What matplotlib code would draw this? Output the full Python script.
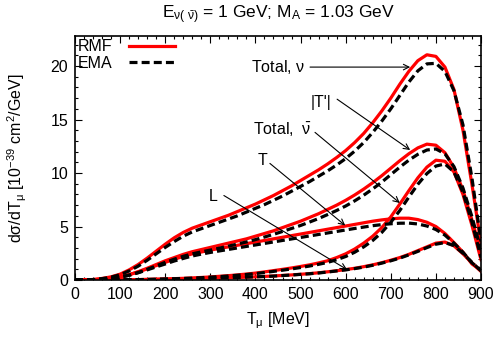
import matplotlib
matplotlib.use("Agg")
import matplotlib.pyplot as plt
import numpy as np

plt.rcParams['font.family'] = ['Liberation Sans', 'DejaVu Sans']
plt.rcParams['mathtext.fontset'] = 'custom'
plt.rcParams['mathtext.rm'] = 'Liberation Sans'
plt.rcParams['mathtext.it'] = 'Liberation Sans'
plt.rcParams['mathtext.default'] = 'regular'

# muon kinetic energy grid [MeV]
t_mu = np.arange(0, 901, 20)

# RMF curves
tot_nu_rmf = [0, 0.01, 0.05, 0.15, 0.3, 0.55, 0.95, 1.45, 2.05, 2.7, 3.35, 3.95, 4.45, 4.85, 5.15,
              5.45, 5.75, 6.05, 6.4, 6.75, 7.1, 7.5, 7.9, 8.35, 8.8, 9.3, 9.8, 10.3, 10.85, 11.45,
              12.1, 12.85, 13.7, 14.7, 15.8, 17.0, 18.3, 19.5, 20.5, 21.05, 20.9, 19.9, 17.8, 14.0,
              8.9, 3.4]
tp_rmf = [0, 0.01, 0.03, 0.08, 0.17, 0.3, 0.5, 0.78, 1.1, 1.45, 1.8, 2.1, 2.4, 2.65, 2.85, 3.05,
          3.25, 3.45, 3.65, 3.85, 4.1, 4.35, 4.6, 4.9, 5.2, 5.5, 5.85, 6.2, 6.6, 7.0, 7.45, 7.95,
          8.5, 9.1, 9.75, 10.45, 11.15, 11.8, 12.35, 12.7, 12.6, 11.9, 10.5, 8.4, 5.6, 2.6]
t_rmf = [0, 0.01, 0.03, 0.08, 0.17, 0.3, 0.5, 0.75, 1.05, 1.35, 1.65, 1.95, 2.2, 2.45, 2.62, 2.8,
         2.95, 3.1, 3.25, 3.4, 3.55, 3.7, 3.85, 4.0, 4.15, 4.3, 4.45, 4.6, 4.75, 4.9, 5.05, 5.2,
         5.35, 5.5, 5.62, 5.72, 5.78, 5.78, 5.65, 5.4, 5.0, 4.35, 3.5, 2.6, 1.5, 0.9]
tot_nub_rmf = [0, 0, 0, 0.01, 0.01, 0.02, 0.03, 0.04, 0.06, 0.08, 0.1, 0.13, 0.16, 0.2, 0.24, 0.29,
               0.35, 0.41, 0.48, 0.56, 0.65, 0.76, 0.88, 1.0, 1.13, 1.27, 1.42, 1.6, 1.8, 2.1, 2.45,
               2.9, 3.45, 4.1, 4.9, 5.9, 7.1, 8.35, 9.55, 10.55, 11.2, 11.1, 10.1, 8.0, 5.1, 1.9]
l_rmf = [0, 0, 0, 0.01, 0.01, 0.02, 0.03, 0.04, 0.05, 0.06, 0.08, 0.09, 0.11, 0.13, 0.15, 0.17,
         0.19, 0.21, 0.24, 0.27, 0.3, 0.34, 0.38, 0.43, 0.48, 0.54, 0.6, 0.68, 0.77, 0.87, 0.98,
         1.1, 1.25, 1.42, 1.62, 1.85, 2.1, 2.4, 2.75, 3.1, 3.45, 3.55, 3.2, 2.45, 1.6, 0.8]

# EMA curves
tot_nu_ema = [0, 0.01, 0.04, 0.13, 0.27, 0.5, 0.85, 1.3, 1.85, 2.45, 3.05, 3.6, 4.1, 4.5, 4.8, 5.1,
              5.4, 5.7, 6.0, 6.35, 6.7, 7.05, 7.45, 7.85, 8.3, 8.75, 9.2, 9.7, 10.2, 10.75, 11.35,
              12.05, 12.85, 13.8, 14.85, 16.0, 17.25, 18.5, 19.55, 20.2, 20.25, 19.5, 17.7, 14.5,
              9.5, 3.6]
tp_ema = [0, 0.01, 0.03, 0.07, 0.15, 0.27, 0.45, 0.7, 1.0, 1.33, 1.65, 1.95, 2.22, 2.45, 2.63, 2.8,
          2.98, 3.17, 3.36, 3.56, 3.78, 4.02, 4.27, 4.54, 4.82, 5.1, 5.42, 5.75, 6.12, 6.5, 6.92,
          7.4, 7.93, 8.52, 9.15, 9.85, 10.55, 11.2, 11.75, 12.15, 12.25, 11.8, 10.6, 8.6, 5.9, 2.8]
t_ema = [0, 0.01, 0.03, 0.07, 0.15, 0.27, 0.45, 0.68, 0.95, 1.23, 1.5, 1.78, 2.02, 2.25, 2.42, 2.58,
         2.72, 2.86, 3.0, 3.14, 3.28, 3.42, 3.56, 3.7, 3.84, 3.98, 4.12, 4.26, 4.4, 4.54, 4.68,
         4.82, 4.95, 5.08, 5.18, 5.26, 5.31, 5.32, 5.24, 5.05, 4.72, 4.2, 3.45, 2.6, 1.6, 0.95]
tot_nub_ema = [0, 0, 0, 0.01, 0.01, 0.02, 0.03, 0.04, 0.05, 0.07, 0.09, 0.12, 0.15, 0.18, 0.22, 0.27,
               0.32, 0.38, 0.45, 0.52, 0.6, 0.7, 0.81, 0.92, 1.04, 1.17, 1.31, 1.47, 1.65, 1.9, 2.2,
               2.6, 3.1, 3.7, 4.45, 5.4, 6.5, 7.75, 8.95, 9.95, 10.65, 10.85, 10.1, 8.2, 5.4, 2.1]
l_ema = [0, 0, 0, 0.01, 0.01, 0.02, 0.03, 0.04, 0.05, 0.06, 0.08, 0.09, 0.11, 0.13, 0.15, 0.17,
         0.19, 0.21, 0.24, 0.27, 0.3, 0.33, 0.37, 0.42, 0.47, 0.53, 0.59, 0.66, 0.75, 0.85, 0.95,
         1.07, 1.21, 1.38, 1.58, 1.8, 2.05, 2.35, 2.68, 3.03, 3.35, 3.5, 3.22, 2.5, 1.65, 0.85]

fig = plt.figure(figsize=(4.98, 3.37), dpi=100)
ax = fig.add_axes([0.1506, 0.169, 0.8153, 0.724])

red = '#ff0000'
for i, y in enumerate([tot_nu_rmf, tp_rmf, t_rmf, tot_nub_rmf, l_rmf]):
    ax.plot(t_mu, y, color=red, lw=2.3, label='RMF' if i == 0 else None, zorder=2)
for i, y in enumerate([tot_nu_ema, tp_ema, t_ema, tot_nub_ema, l_ema]):
    ax.plot(t_mu, y, color='black', lw=2.3, dashes=(2.5, 1.3), label='EMA' if i == 0 else None, zorder=3)

fs = 11.5
ax.set_xlim(0, 900)
ax.set_ylim(0, 22.8)
ax.set_xticks(np.arange(0, 901, 100))
ax.set_xticks(np.arange(0, 901, 20), minor=True)
ax.set_yticks([0, 5, 10, 15, 20])
ax.set_yticks(np.arange(0, 23, 1), minor=True)
ax.tick_params(which='both', direction='in', top=True, right=True, labelsize=fs, width=0.8)
ax.tick_params(which='major', length=5, pad=5)
ax.tick_params(which='minor', length=2.5)
for s in ax.spines.values():
    s.set_linewidth(1.2)

ax.set_xlabel(r'T$_{\mu}$ [MeV]', fontsize=fs, labelpad=6)
ax.set_ylabel(r'd$\sigma$/dT$_{\mu}$ [10$^{-39}$ cm$^2$/GeV]', fontsize=fs, labelpad=15)
ax.set_title(r'E$_{\nu(\ \bar{\nu})}$ = 1 GeV; M$_A$ = 1.03 GeV', fontsize=12.5, pad=13)

arr = dict(arrowstyle='->', color='black', lw=0.8, shrinkA=0, shrinkB=0)
ax.annotate('', xy=(743, 19.9), xytext=(521, 19.9), arrowprops=arr)
ax.text(510, 19.9, r'Total, $\nu$', ha='right', va='center', fontsize=fs)
ax.annotate('', xy=(743, 12.15), xytext=(581, 16.9), arrowprops=arr)
ax.text(545, 16.6, "|T'|", ha='center', va='center', fontsize=fs)
ax.annotate('', xy=(720, 7.2), xytext=(532, 13.8), arrowprops=arr)
ax.text(525, 14.0, r'Total,  $\bar{\nu}$', ha='right', va='center', fontsize=fs)
ax.annotate('', xy=(599, 5.1), xytext=(432, 10.9), arrowprops=arr)
ax.text(415, 11.2, 'T', ha='center', va='center', fontsize=fs)
ax.annotate('', xy=(603, 0.98), xytext=(330, 7.9), arrowprops=arr)
ax.text(306, 7.85, 'L', ha='center', va='center', fontsize=fs)

ax.legend(loc='upper left', frameon=False, markerfirst=False, fontsize=fs, handlelength=2.9,
          borderaxespad=0.1, borderpad=0.1, labelspacing=0.1, handletextpad=1.0)

fig.savefig('out.png', dpi=100)
